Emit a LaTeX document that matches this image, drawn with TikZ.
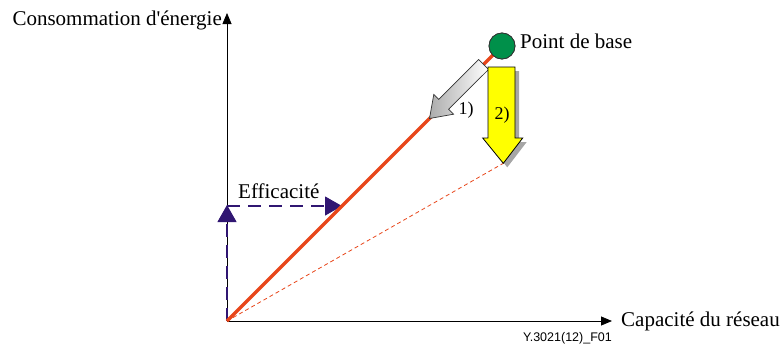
\documentclass[tikz,border=0pt]{standalone}
\usepackage{fontspec}
\setmainfont{Liberation Serif}
\newfontfamily\tagfont{Liberation Sans}
\usetikzlibrary{arrows.meta, calc}
\definecolor{lineRed}{HTML}{E8461A}
\definecolor{baseGreen}{HTML}{00904A}
\definecolor{effPurple}{HTML}{301672}
\definecolor{blockYellow}{HTML}{FFFF00}

\begin{document}
\begin{tikzpicture}[
        x=1pt, y=-1pt,
        axis/.style={-{Triangle[length=11pt, width=9pt]}, line width=0.8pt, black},
        effarrow/.style={-{Triangle[length=17pt, width=19pt]}, effPurple,
            line width=1.1pt, dash pattern=on 13pt off 8pt},
        trend/.style={lineRed, line width=3.5pt},
        target/.style={lineRed, line width=0.8pt, dash pattern=on 4pt off 3pt},
        basept/.style={circle, draw=black!80, fill=baseGreen, line width=0.8pt,
            minimum size=26pt, inner sep=0pt},
        lbl/.style={font=\fontsize{21}{25}\selectfont, inner sep=0pt},
        steplbl/.style={font=\fontsize{18}{22}\selectfont, inner sep=0pt},
        tag/.style={font=\tagfont\fontsize{12.5}{14}\selectfont, inner sep=0pt},
        ]
        \useasboundingbox (0,0) rectangle (781,343);

        % Axes
        \coordinate (O) at (227,321);
        \coordinate (ytop) at (227,13);
        \coordinate (xend) at (612,321);
        \draw[axis] (O) -- (ytop);
        \draw[axis] (O) -- (xend);
        \node[lbl, anchor=base east] (ylab) at (222,25) {Consommation d\textquotesingle énergie};
        \node[lbl, anchor=base west] (xlab) at (621,326) {Capacité du réseau};
        \node[tag, anchor=base east] (fig) at (612,341) {Y.3021(12)\_F01};

        % Efficiency
        \coordinate (eff) at (227,205);
        \coordinate (hit) at (342,206);
        \draw[effarrow] (O) -- (eff);
        \draw[effarrow] (227,206) -- (hit);
        \node[lbl, anchor=base west] (efflab) at (238,198) {Efficacité};

        % Trend lines
        \node[basept] (base) at (502,46) {};
        \coordinate (ytip) at (503.3,163.3);
        \draw[target] (O) -- (ytip);
        \draw[trend] (O) -- (base.center);
        \node[basept] at (base) {};
        \node[lbl, anchor=base west] (baselab) at (520,48) {Point de base};

        % Step 1)
        \draw[draw=black!80, line width=0.7pt, left color=gray!65, right color=white]
            (488.6,69.4) -- (478.7,59.5) -- (438.7,99.4) -- (433.8,94.4)
            -- (429.5,118.5) -- (453.6,114.2) -- (448.6,109.3) -- cycle;
        \node[steplbl, anchor=base] (one) at (466,114) {1)};

        % Step 2)
        \fill[gray!70] (492,71) -- (519,71) -- (519,142) -- (526.7,142)
            -- (507.3,167.3) -- (486.7,142) -- (492,142) -- cycle;
        \draw[draw=black, line width=0.8pt, fill=blockYellow]
            (488,67) -- (515,67) -- (515,138) -- (522.7,138)
            -- (ytip) -- (482.7,138) -- (488,138) -- cycle;
        \node[steplbl, anchor=base] (two) at (502,119) {2)};
    \end{tikzpicture}
\end{document}
